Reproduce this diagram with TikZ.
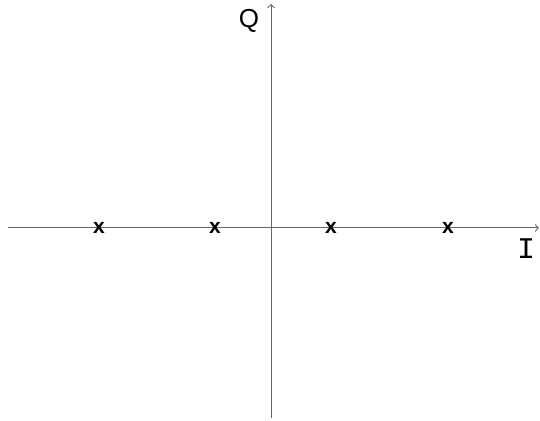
\documentclass[tikz,border=0pt]{standalone}
\usepackage{fontspec}
\setmainfont{Liberation Sans}
\newfontfamily\monofont{Liberation Mono}
\begin{document}
\begin{tikzpicture}[x=0.5pt, y=-0.5pt]
    % 画布
    \useasboundingbox (0,0) rectangle (540,421);
    
    % 坐标轴
    \draw[black!60, line width=0.5pt, -to] (8,228) -- (539,228);
    \draw[black!60, line width=0.5pt, -to] (271,418) -- (271,4);
    
    % 轴标签
    \node (q) at (249,21) {\fontsize{13}{13}\selectfont Q};
    \node (i) at (526,249) {\fontsize{15}{15}\selectfont\monofont I};
    
    % 星座点
    \foreach \px/\nm in {99/p1, 215/p2, 331/p3, 448/p4}
      \node (\nm) at (\px,228) {\fontsize{10.5}{10.5}\selectfont\bfseries x};
  \end{tikzpicture}
\end{document}
